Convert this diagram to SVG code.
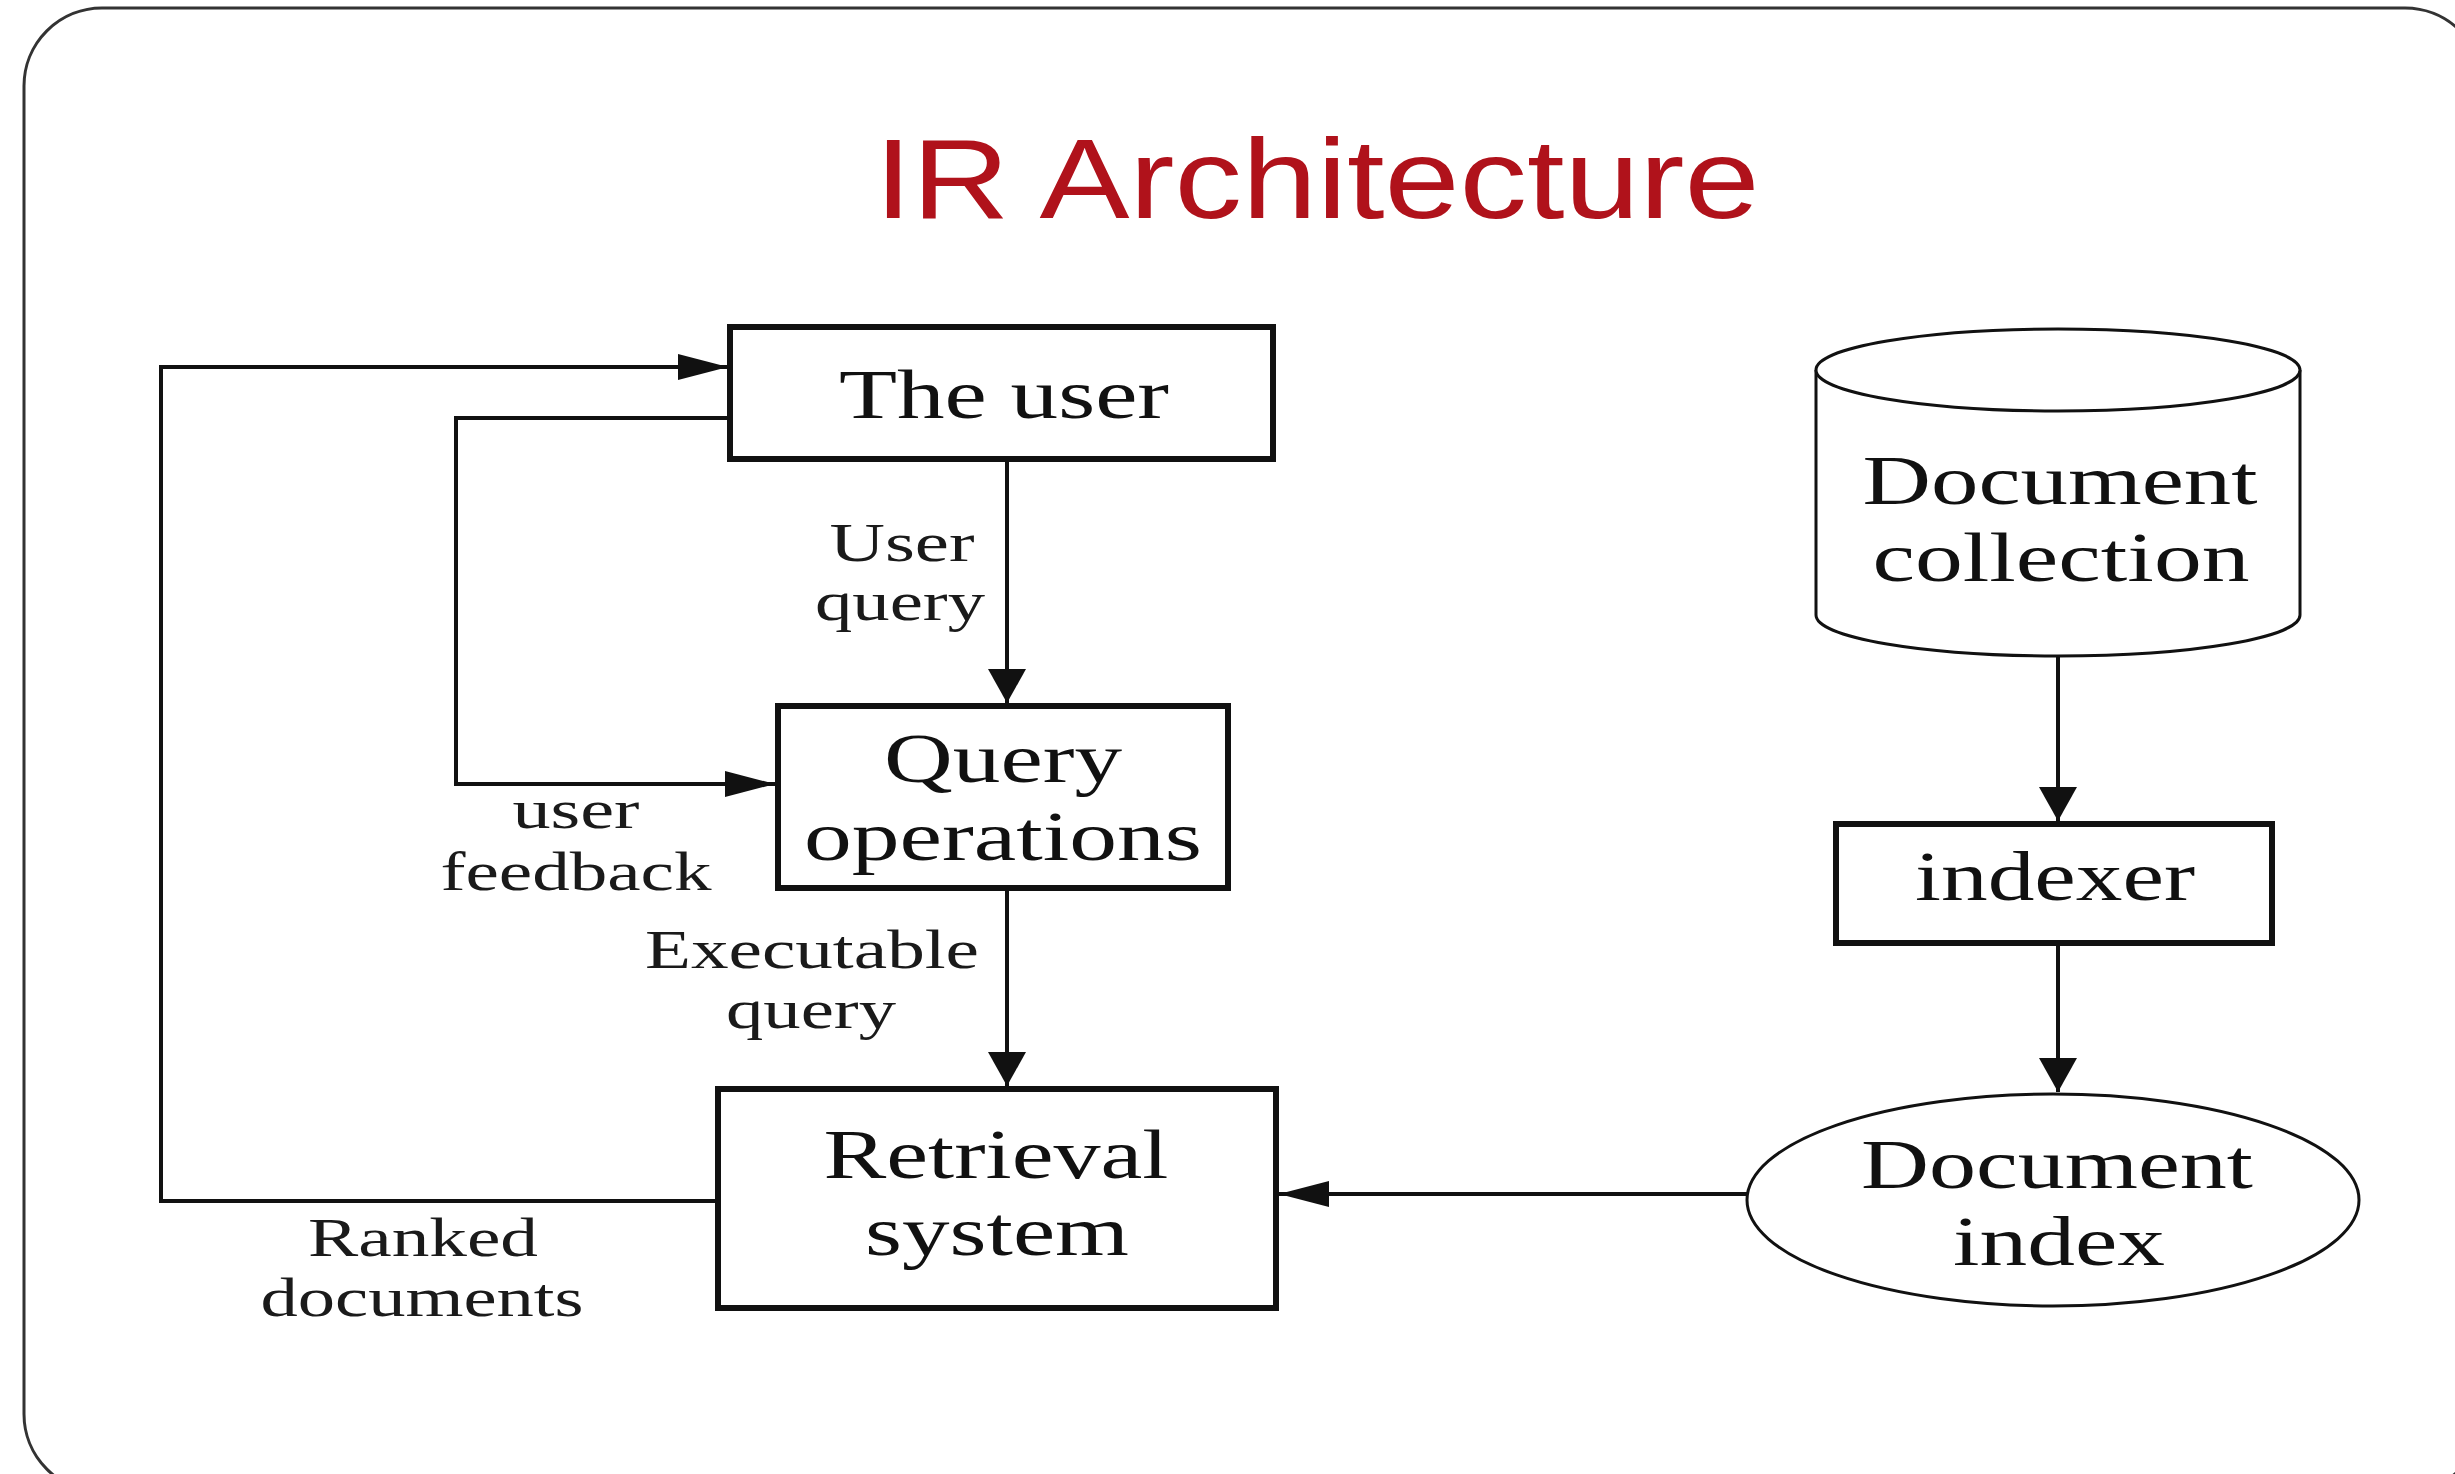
<svg xmlns="http://www.w3.org/2000/svg" width="2455" height="1474" viewBox="0 0 2455 1474">
<style>
.frame{fill:#ffffff;stroke:#333333;stroke-width:3}
.box{fill:#ffffff;stroke:#111111;stroke-width:6}
.thin{fill:#ffffff;stroke:#111111;stroke-width:3}
.conn{fill:none;stroke:#111111;stroke-width:4}
.big{font-family:"Liberation Serif","Times New Roman",serif;font-size:69px;fill:#111111;text-anchor:middle}
.small{font-family:"Liberation Serif","Times New Roman",serif;font-size:55px;fill:#1a1a1a;text-anchor:middle}
.title{font-family:"Liberation Sans",Arial,sans-serif;font-size:113px;fill:#b0121b;text-anchor:middle}
</style>
<defs>
<marker id="arrH" markerUnits="userSpaceOnUse" markerWidth="52" markerHeight="28" refX="50" refY="13" orient="auto">
<path d="M0,0 L50,13 L0,26 z" fill="#111111"/>
</marker>
<marker id="arrV" markerUnits="userSpaceOnUse" markerWidth="36" markerHeight="40" refX="34" refY="19" orient="auto">
<path d="M0,0 L34,19 L0,38 z" fill="#111111"/>
</marker>
</defs>
<rect width="2455" height="1474" fill="#ffffff"/>
<rect class="frame" x="24" y="8" width="2459" height="1484" rx="78" ry="78"/>
<text class="title" x="1317" y="218" textLength="885" lengthAdjust="spacingAndGlyphs">IR Architecture</text>

<g id="connectors">
<path class="conn" d="M718,1201 H161 V367 H728" marker-end="url(#arrH)"/>
<path class="conn" d="M730,418 H456 V784 H775" marker-end="url(#arrH)"/>
<path class="conn" d="M1007,459 V703" marker-end="url(#arrV)"/>
<path class="conn" d="M1007,889 V1086" marker-end="url(#arrV)"/>
<path class="conn" d="M2058,656 V821" marker-end="url(#arrV)"/>
<path class="conn" d="M2058,943 V1092" marker-end="url(#arrV)"/>
<path class="conn" d="M1748,1194 H1279" marker-end="url(#arrH)"/>
<text class="small" x="902" y="561" textLength="145" lengthAdjust="spacingAndGlyphs">User</text>
<text class="small" x="900" y="620" textLength="170" lengthAdjust="spacingAndGlyphs">query</text>
<text class="small" x="576" y="828" textLength="127" lengthAdjust="spacingAndGlyphs">user</text>
<text class="small" x="576" y="890" textLength="271" lengthAdjust="spacingAndGlyphs">feedback</text>
<text class="small" x="812" y="968" textLength="334" lengthAdjust="spacingAndGlyphs">Executable</text>
<text class="small" x="811" y="1028" textLength="170" lengthAdjust="spacingAndGlyphs">query</text>
<text class="small" x="423" y="1256" textLength="230" lengthAdjust="spacingAndGlyphs">Ranked</text>
<text class="small" x="422" y="1316" textLength="323" lengthAdjust="spacingAndGlyphs">documents</text>
</g>

<g id="the-user">
<rect class="box" x="730" y="327" width="543" height="132"/>
<text class="big" x="1004" y="418" textLength="330" lengthAdjust="spacingAndGlyphs">The user</text>
</g>

<g id="query-operations">
<rect class="box" x="778" y="706" width="450" height="182"/>
<text class="big" x="1003" y="782" textLength="238" lengthAdjust="spacingAndGlyphs">Query</text>
<text class="big" x="1003" y="860" textLength="398" lengthAdjust="spacingAndGlyphs">operations</text>
</g>

<g id="retrieval-system">
<rect class="box" x="718" y="1089" width="558" height="219"/>
<text class="big" x="996" y="1178" textLength="345" lengthAdjust="spacingAndGlyphs">Retrieval</text>
<text class="big" x="997" y="1255" textLength="264" lengthAdjust="spacingAndGlyphs">system</text>
</g>

<g id="document-collection">
<path class="thin" d="M1816,370 V615 A242,41 0 0 0 2300,615 V370"/>
<ellipse class="thin" cx="2058" cy="370" rx="242" ry="41"/>
<text class="big" x="2060" y="504" textLength="395" lengthAdjust="spacingAndGlyphs">Document</text>
<text class="big" x="2061" y="581" textLength="377" lengthAdjust="spacingAndGlyphs">collection</text>
</g>

<g id="indexer">
<rect class="box" x="1836" y="824" width="436" height="119"/>
<text class="big" x="2055" y="900" textLength="280" lengthAdjust="spacingAndGlyphs">indexer</text>
</g>

<g id="document-index">
<ellipse class="thin" cx="2053" cy="1200" rx="306" ry="106"/>
<text class="big" x="2057" y="1188" textLength="392" lengthAdjust="spacingAndGlyphs">Document</text>
<text class="big" x="2059" y="1265" textLength="212" lengthAdjust="spacingAndGlyphs">index</text>
</g>
</svg>
